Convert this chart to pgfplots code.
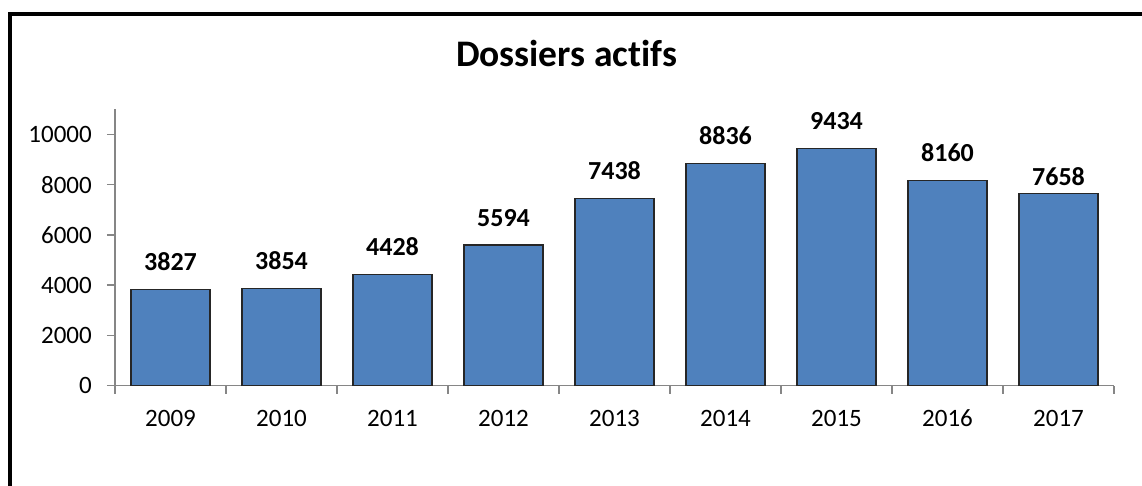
\documentclass[border=0pt]{standalone}
\usepackage{fontspec}
\setmainfont{Carlito}[Ligatures=NoCommon]
\usepackage{pgfplots}
\pgfplotsset{compat=1.18}
\usepackage{pgfplotstable}

\definecolor{barblue}{HTML}{4F81BD}
\definecolor{axisgray}{HTML}{868686}

% year index, value, label gap above the bar (pt)
\pgfplotstableread{
x y off
0 3827 18
1 3854 18
2 4428 18
3 5594 18
4 7438 18
5 8836 18
6 9434 18
7 8160 18
8 7658 7
}\dossiers

\begin{document}
\begin{tikzpicture}
\useasboundingbox (0,0) rectangle (1142pt,485pt);
% chart frame (only left and top edges visible)
\draw[line width=4pt, line join=miter] (9.7pt,-5pt) -- (9.7pt,471pt) -- (1150pt,471pt);
\node[anchor=base, font=\bfseries\fontsize{37.5}{44}\selectfont] at (566.5pt,418pt) {Dossiers actifs};

\begin{axis}[
    at={(115pt,99.3pt)},
    anchor=south west,
    scale only axis,
    width=999pt,
    height=276.7pt,
    ybar,
    bar width=79pt,
    xmin=-0.5, xmax=8.5,
    ymin=0, ymax=11006,
    enlargelimits=false,
    axis x line*=bottom,
    axis y line*=left,
    axis line style={draw=axisgray, line width=1.3pt},
    tick align=outside,
    xtick=data,
    xticklabels={2009,2010,2011,2012,2013,2014,2015,2016,2017},
    major x tick style={draw=none},
    minor xtick={-0.5,0.5,...,8.5},
    minor x tick style={draw=axisgray, line width=1.3pt},
    minor tick length=8pt,
    ytick={0,2000,...,10000},
    scaled y ticks=false,
    major y tick style={draw=axisgray, line width=1.3pt},
    major tick length=8pt,
    /pgf/number format/assume math mode=true,
    /pgf/number format/1000 sep={},
    ticklabel style={font=\fontsize{25}{30}\selectfont, inner sep=0pt},
    yticklabel style={anchor=east, xshift=-15pt},
    xticklabel style={anchor=north, text height=16pt, text depth=0pt, yshift=-16.3pt},
    clip=false,
    visualization depends on={\thisrow{off} \as \off},
    nodes near coords={\pgfmathprintnumber[1000 sep={}]{\pgfplotspointmeta}},
    every node near coord/.append style={
        font=\bfseries\fontsize{26}{31}\selectfont,
        anchor=south, inner sep=0pt, yshift=\off pt},
]
\addplot[fill=barblue, draw=black!85, line width=1.3pt] table[x=x, y=y] {\dossiers};
\end{axis}
\end{tikzpicture}
\end{document}
